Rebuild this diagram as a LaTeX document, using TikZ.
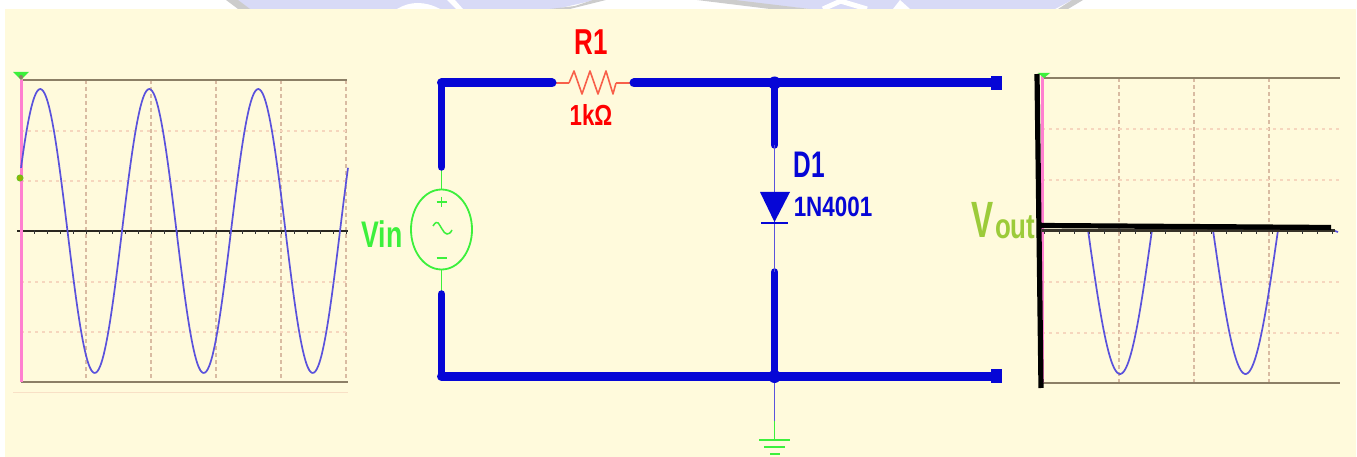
\documentclass[tikz,border=0pt]{standalone}
\usepackage{fontspec}
\setmainfont{Liberation Sans}
\usetikzlibrary{calc,shapes.geometric}

\definecolor{cream}{HTML}{FFFADC}
\definecolor{wash}{HTML}{D8DAF6}
\definecolor{wireblue}{HTML}{0606D6}
\definecolor{tracecol}{HTML}{5A52DC}
\definecolor{railcol}{HTML}{8C7F66}
\definecolor{vgrid}{HTML}{D9BBA2}
\definecolor{hgrid}{HTML}{F6D6BE}
\definecolor{pinkaxis}{HTML}{FF7FD0}
\definecolor{srcgreen}{HTML}{3CF03C}
\definecolor{voutcol}{HTML}{9CCB3A}
\definecolor{rescol}{HTML}{F8604A}

\tikzset{
  wire/.style={wireblue, line width=9pt, line cap=round},
  wirev/.style={wireblue, line width=7.5pt, line cap=round},
  thinwire/.style={tracecol, line width=1.5pt},
  lead/.style={srcgreen, line width=1.5pt},
  rail/.style={railcol, line width=2.2pt},
  trace/.style={tracecol, line width=1.7pt, line join=round},
  vline/.style={vgrid, line width=1.3pt, dash pattern=on 4pt off 3pt},
  hline/.style={hgrid, line width=2pt, dash pattern=on 3pt off 4pt},
  reslead/.style={rescol, line width=1.6pt, line join=round},
  lbl/.style={inner sep=0pt, transform shape},
  blackaxis/.style={black, line width=5.2pt},
}

\begin{document}
\begin{tikzpicture}[x=1pt, y=-1pt]

\useasboundingbox (0,0) rectangle (1357,457);

% backdrop
\fill[white] (0,0) rectangle (1357,457);
\fill[wash] (236,0) -- (248,9) -- (556,9) -- (595,0) -- cycle;
\fill[black!20] (226,0) -- (238,9) -- (250,9) -- (238,0) -- cycle;
\fill[black!20] (550,9) -- (575,6) -- (593,0) -- (606,0) -- (570,9) -- cycle;
\fill[white] (397,9) .. controls (410,1) and (425,1) .. (440,9) -- cycle;
\fill[white] (447,0) -- (455,0) -- (463,9) -- (456,9) -- cycle;
\fill[wash] (725,0) -- (810,9) -- (1055,9) -- (1072,0) -- cycle;
\fill[black!20] (697,0) -- (735,0) -- (810,9) -- (770,9) -- cycle;
\fill[black!20] (1072,0) -- (1083,0) -- (1068,9) -- (1058,9) -- cycle;
\draw[white, line width=5pt] (823,9) -- (843,0) (837,0) -- (867,9);
\fill[white] (893,9) -- (910,9) -- (900,0) -- cycle;
\fill[cream] (5,9) rectangle (1356,457);

\coordinate (TL) at (441.5,83);
\coordinate (BL) at (441.5,376.5);
\coordinate (TJ) at (774.5,83);
\coordinate (BJ) at (774.5,376.5);
\coordinate (TR) at (996,83);
\coordinate (BR) at (996,376.5);
\coordinate (Ra) at (552,83);
\coordinate (Rb) at (634,83);
\coordinate (Sa) at (441.5,167);
\coordinate (Sb) at (441.5,294);
\coordinate (Da) at (774.5,145);
\coordinate (Db) at (774.5,272);
\coordinate (G) at (774.5,421);
\coordinate (Gb) at (774.5,440);

% input trace
\foreach \x in {86,151,216,281,346}
  \draw[vline] (\x,80) -- (\x,382);
\foreach \y in {131,181,282,332}
  \draw[hline] (21,\y) -- (347,\y);
\draw[hgrid, opacity=.7] (13,392) -- (348,392);
\draw[rail] (21,80) -- (347,80);
\draw[rail] (21,382) -- (348,382);
\draw[rail, black!70!railcol] (17,231) -- (348,231);
\foreach \i in {0,...,25}
  \draw[black!80, line width=1pt] ({21+13*\i},230) -- ({21+13*\i},234);
\draw[pinkaxis, line width=3pt] (21,76) -- (21,382);
\draw[trace] plot[domain=21:348, samples=220, smooth]
  (\x,{231-142*sin((\x-13)/109*360)});
\fill[srcgreen] (13,72) -- (29,72) -- (21,80) -- cycle;
\fill[railcol] (21,77) circle (2pt);
\draw[srcgreen!70!black!70!yellow, fill=orange!60!green, line width=1pt] (20,178) circle (3pt);

% output trace
\foreach \x in {1119,1194,1269}
  \draw[vline] (\x,78) -- (\x,383);
\foreach \y in {129,180,282,333}
  \draw[hline] (1042,\y) -- (1340,\y);
\draw[rail] (1042,78) -- (1340,78);
\draw[rail] (1042,383) -- (1340,383);
\draw[pinkaxis, line width=3pt] (1042,76) -- (1042,383);
\fill[srcgreen] (1038,73) -- (1050,73) -- (1044,78) -- cycle;
\draw[trace] (1042,230) -- (1088,230)
  plot[domain=1088:1152, samples=50, smooth] (\x,{230+144*sin((\x-1088)/64*180)})
  -- (1213,230)
  plot[domain=1213:1278, samples=50, smooth] (\x,{230+144*sin((\x-1213)/65*180)})
  -- (1332,230) -- (1338,232);
\draw[rail, black!60!railcol] (1042,230.5) -- (1335,230.5);
\foreach \i in {0,...,19}
  \draw[black!80, line width=1pt] ({1044+15.2*\i},229) -- ({1044+15.2*\i},234);
\draw[blackaxis] (1037,74) -- (1041,388);
\draw[blackaxis] (1040,225.5) -- (1331,227.5);

% source
\node[draw=srcgreen, line width=1.8pt, ellipse, minimum width=61pt, minimum height=80pt, inner sep=0pt] (Vs) at (441.5,229.5) {};
\draw[lead] (Sa) -- (Vs.north);
\draw[lead] (Vs.south) -- (Sb);
\draw[lead, line width=1.8pt] (441.5,197) -- (441.5,207) (436.5,202) -- (446.5,202);
\draw[lead, line width=2.2pt] (436.5,258) -- (446.5,258);
\draw[lead] (433,226) .. controls (438,218) and (439,225) .. (442,229) .. controls (445,235) and (449,236) .. (452,230);

% resistor
\coordinate (Za) at (569,83);
\coordinate (Zb) at (616,83);
\draw[reslead] (Ra) -- (Za);
\draw[reslead] (Zb) -- (Rb);
\draw[reslead] (Za) -- (574,71) -- (582,94) -- (590,71) -- (598,94) -- (606,71) -- (613,94) -- (Zb);

% wires
\draw[thinwire] (BJ) -- (G);
\draw[wire] (Ra) -- (TL);
\draw[wirev] (TL) -- (Sa);
\draw[wirev] (Sb) -- (BL);
\draw[wire] (BL) -- (BR);
\draw[wire] (Rb) -- (TR);
\draw[wirev] (TJ) -- (Da);
\draw[wirev] (Db) -- (BJ);
\fill[wireblue] (TJ) circle (6.5pt);
\fill[wireblue] (BJ) circle (6.5pt);
\fill[wireblue] (991,76) rectangle (1002,90);
\fill[wireblue] (991,369) rectangle (1002,383);

% diode and ground
\coordinate (Dt) at (774.5,222);
\draw[thinwire] (Da) -- (Db);
\fill[wireblue] (760,192) -- (790,192) -- (Dt) -- cycle;
\draw[wireblue, line width=1.8pt] (761,223) -- (788,223);
\draw[lead, line width=1.8pt] (G) -- (Gb);
\draw[srcgreen, line width=2.4pt] (759,440) -- (790,440);
\draw[srcgreen, line width=2.4pt] (764,447) -- (785,447);
\draw[srcgreen, line width=2.4pt] (770,454) -- (780,454);

% labels
\node[lbl, text=red, xscale=.72, font=\bfseries\fontsize{36}{36}\selectfont] (R1) at (591,42) {R1};
\node[lbl, text=red, xscale=.77, font=\bfseries\fontsize{29}{29}\selectfont] (R1v) at (591,115) {1kΩ};
\node[lbl, text=srcgreen, xscale=.72, font=\bfseries\fontsize{37}{37}\selectfont] (Vin) at (382,234) {Vin};
\node[lbl, text=wireblue, xscale=.66, font=\bfseries\fontsize{37}{37}\selectfont] (D1) at (809,165) {D1};
\node[lbl, text=wireblue, xscale=.8, font=\bfseries\fontsize{28}{28}\selectfont] (D1v) at (833,207) {1N4001};
\node[lbl, text=voutcol, xscale=.65, font=\bfseries\fontsize{51}{51}\selectfont] (Vo) at (983,220) {V};
\node[lbl, text=voutcol, xscale=.74, font=\bfseries\fontsize{35}{35}\selectfont, anchor=base west] (Vt) at (995,238) {out};

\end{tikzpicture}
\end{document}
